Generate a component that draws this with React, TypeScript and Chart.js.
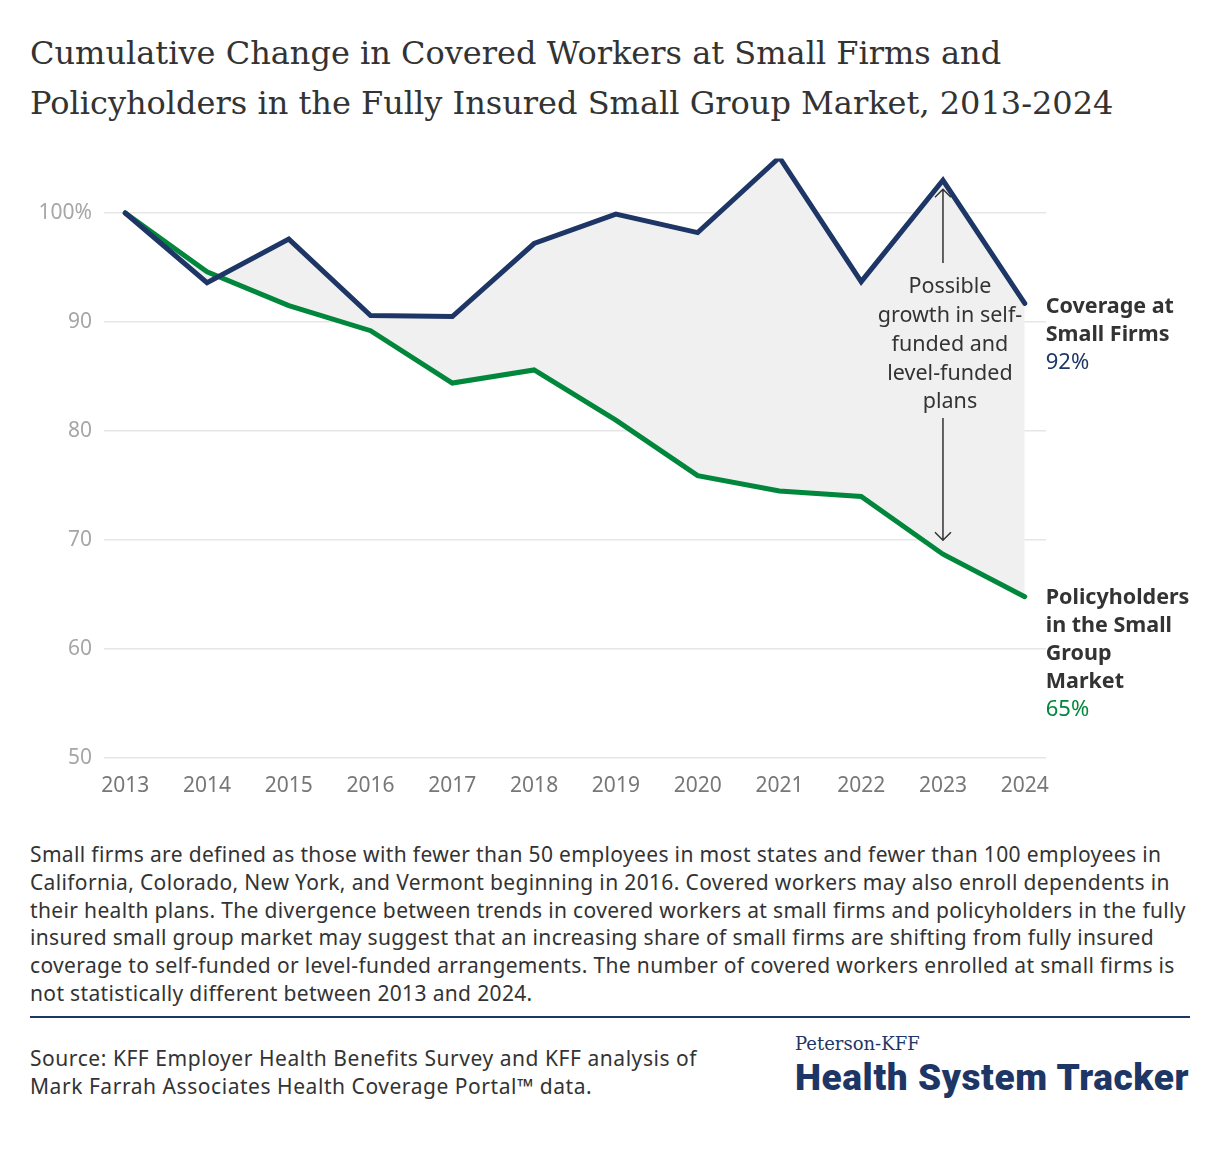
import React, { useEffect, useRef } from "react";
import { Chart, registerables } from "chart.js";

Chart.register(...registerables);

// values are % of 2013 level
const years = [2013, 2014, 2015, 2016, 2017, 2018, 2019, 2020, 2021, 2022, 2023, 2024];
const coverageSmallFirms = [100, 93.6, 97.6, 90.6, 90.5, 97.2, 99.9, 98.2, 105.1, 93.7, 103.0, 91.7];
const policyholders = [100, 94.6, 91.5, 89.2, 84.4, 85.6, 81.0, 75.9, 74.5, 74.0, 68.7, 64.8];
const yTicks = [50, 60, 70, 80, 90, 100];

const endLabelCoverage = ["Coverage at", "Small Firms"];
const endLabelPolicy = ["Policyholders", "in the Small", "Group", "Market"];
const noteLines = ["Possible", "growth in self-", "funded and", "level-funded", "plans"];

const NAVY = "#1e3666";
const GREEN = "#00873c";
const TEXT = "#333333";
const SANS = "'Noto Sans', sans-serif";

// draws the end labels and the double arrow note
const labelsPlugin = {
  id: "endLabels",
  afterDatasetsDraw(chart: any) {
    const { ctx, scales } = chart;
    const xs = scales.x;
    const ys = scales.y;
    const last = years.length - 1;
    const lx = xs.getPixelForValue(years[last]) + 21;

    ctx.save();
    ctx.textBaseline = "middle";
    ctx.textAlign = "left";

    const lh = 28;
    let y = ys.getPixelForValue(coverageSmallFirms[last]) + 3;
    ctx.font = `bold 21.5px ${SANS}`;
    ctx.fillStyle = TEXT;
    endLabelCoverage.forEach((t, i) => ctx.fillText(t, lx, y + i * lh));
    ctx.font = `22px ${SANS}`;
    ctx.fillStyle = NAVY;
    ctx.fillText(Math.round(coverageSmallFirms[last]) + "%", lx, y + endLabelCoverage.length * lh);

    y = ys.getPixelForValue(policyholders[last]) + 1;
    ctx.font = `bold 21.5px ${SANS}`;
    ctx.fillStyle = TEXT;
    endLabelPolicy.forEach((t, i) => ctx.fillText(t, lx, y + i * lh));
    ctx.font = `22px ${SANS}`;
    ctx.fillStyle = GREEN;
    ctx.fillText(Math.round(policyholders[last]) + "%", lx, y + endLabelPolicy.length * lh);

    // note with arrows at 2023
    const ax = xs.getPixelForValue(2023);
    const topTip = ys.getPixelForValue(coverageSmallFirms[10]) + 9;
    const botTip = ys.getPixelForValue(policyholders[10]) - 14;
    ctx.strokeStyle = TEXT;
    ctx.lineWidth = 1.5;
    ctx.beginPath();
    ctx.moveTo(ax, 123);
    ctx.lineTo(ax, topTip);
    ctx.moveTo(ax - 8, topTip + 8);
    ctx.lineTo(ax, topTip);
    ctx.lineTo(ax + 8, topTip + 8);
    ctx.moveTo(ax, 278);
    ctx.lineTo(ax, botTip);
    ctx.moveTo(ax - 8, botTip - 8);
    ctx.lineTo(ax, botTip);
    ctx.lineTo(ax + 8, botTip - 8);
    ctx.stroke();

    ctx.font = `21.5px ${SANS}`;
    ctx.fillStyle = TEXT;
    ctx.textAlign = "center";
    noteLines.forEach((t, i) => ctx.fillText(t, ax + 7, 147 + i * 28.8));
    ctx.restore();
  },
};

const TrendChart: React.FC = () => {
  const canvasRef = useRef<HTMLCanvasElement | null>(null);

  useEffect(() => {
    if (!canvasRef.current) return;
    const chart = new Chart(canvasRef.current, {
      type: "line",
      data: {
        datasets: [
          {
            label: "Coverage at Small Firms",
            data: years.map((yr, i) => ({ x: yr, y: coverageSmallFirms[i] })),
            borderColor: NAVY,
            borderWidth: 5,
            borderJoinStyle: "miter",
            borderCapStyle: "round",
            pointRadius: 0,
            fill: { target: 1 },
            backgroundColor: "#f0f0f0",
            tension: 0,
          },
          {
            label: "Policyholders in the Small Group Market",
            data: years.map((yr, i) => ({ x: yr, y: policyholders[i] })),
            borderColor: GREEN,
            borderWidth: 5,
            borderJoinStyle: "miter",
            borderCapStyle: "round",
            pointRadius: 0,
            fill: false,
            tension: 0,
          },
        ],
      },
      options: {
        animation: false,
        responsive: true,
        maintainAspectRatio: false,
        layout: { padding: { top: 18.5, right: 174, bottom: 0, left: 0 } },
        plugins: {
          legend: { display: false },
          tooltip: { enabled: false },
          filler: { drawTime: "beforeDatasetsDraw" },
        },
        scales: {
          x: {
            type: "linear",
            min: 2012.74,
            max: 2024.26,
            afterBuildTicks: (scale: any) => {
              scale.ticks = years.map((v) => ({ value: v }));
            },
            afterFit: (scale: any) => {
              scale.height = 52;
              scale.paddingLeft = 0;
              scale.paddingRight = 0;
            },
            grid: { display: false },
            border: { display: false },
            ticks: {
              color: "#777777",
              font: { family: SANS, size: 21 },
              padding: 7,
              maxRotation: 0,
              callback: (v: any) => String(v),
            },
          },
          y: {
            min: 50,
            max: 105,
            afterBuildTicks: (scale: any) => {
              scale.ticks = yTicks.map((v) => ({ value: v }));
            },
            afterFit: (scale: any) => {
              scale.width = 104;
              scale.paddingTop = 0;
              scale.paddingBottom = 0;
            },
            grid: { color: "#e6e6e6", lineWidth: 1.5, drawTicks: false },
            border: { display: false },
            ticks: {
              color: "#a6a6a6",
              font: { family: SANS, size: 21 },
              padding: 12,
              callback: (v: any) => (v === 100 ? "100%" : String(v)),
            },
          },
        },
      },
      plugins: [labelsPlugin],
    });
    return () => chart.destroy();
  }, []);

  return (
    <div style={{ position: "absolute", left: 0, top: 140, width: 1220, height: 670 }}>
      <canvas ref={canvasRef}></canvas>
    </div>
  );
};

export default function App() {
  return (
    <div style={{ position: "absolute", left: 0, top: 0, width: 1220, height: 1154, background: "#fff", fontFamily: SANS, color: TEXT }}>
      <div
        style={{
          position: "absolute",
          left: 30,
          top: 28,
          fontFamily: "'DejaVu Serif', serif",
          fontSize: 32,
          lineHeight: "50px",
          whiteSpace: "nowrap",
          color: "#333",
        }}
      >
        Cumulative Change in Covered Workers at Small Firms and
        <br />
        Policyholders in the Fully Insured Small Group Market, 2013-2024
      </div>

      <TrendChart />

      <div
        style={{
          position: "absolute",
          left: 30,
          top: 841,
          fontSize: 21,
          letterSpacing: 0.35,
          lineHeight: "27.8px",
          whiteSpace: "nowrap",
        }}
      >
        Small firms are defined as those with fewer than 50 employees in most states and fewer than 100 employees in
        <br />
        California, Colorado, New York, and Vermont beginning in 2016. Covered workers may also enroll dependents in
        <br />
        their health plans. The divergence between trends in covered workers at small firms and policyholders in the fully
        <br />
        insured small group market may suggest that an increasing share of small firms are shifting from fully insured
        <br />
        coverage to self-funded or level-funded arrangements. The number of covered workers enrolled at small firms is
        <br />
        not statistically different between 2013 and 2024.
      </div>

      <div style={{ position: "absolute", left: 30, top: 1016, width: 1160, height: 2, background: NAVY }} />

      <div
        style={{
          position: "absolute",
          left: 30,
          top: 1044,
          fontSize: 21,
          letterSpacing: 0.55,
          lineHeight: "28px",
          whiteSpace: "nowrap",
        }}
      >
        Source: KFF Employer Health Benefits Survey and KFF analysis of
        <br />
        Mark Farrah Associates Health Coverage Portal™ data.
      </div>

      <div
        style={{
          position: "absolute",
          left: 795,
          top: 1033,
          fontFamily: "'DejaVu Serif', serif",
          fontSize: 18,
          lineHeight: "22px",
          color: NAVY,
          whiteSpace: "nowrap",
        }}
      >
        Peterson-KFF
      </div>
      <div
        style={{
          position: "absolute",
          left: 795,
          top: 1056,
          fontFamily: "Roboto, sans-serif",
          fontWeight: 900,
          fontSize: 37,
          lineHeight: "44px",
          letterSpacing: 0.6,
          color: NAVY,
          whiteSpace: "nowrap",
        }}
      >
        Health System Tracker
      </div>
    </div>
  );
}
